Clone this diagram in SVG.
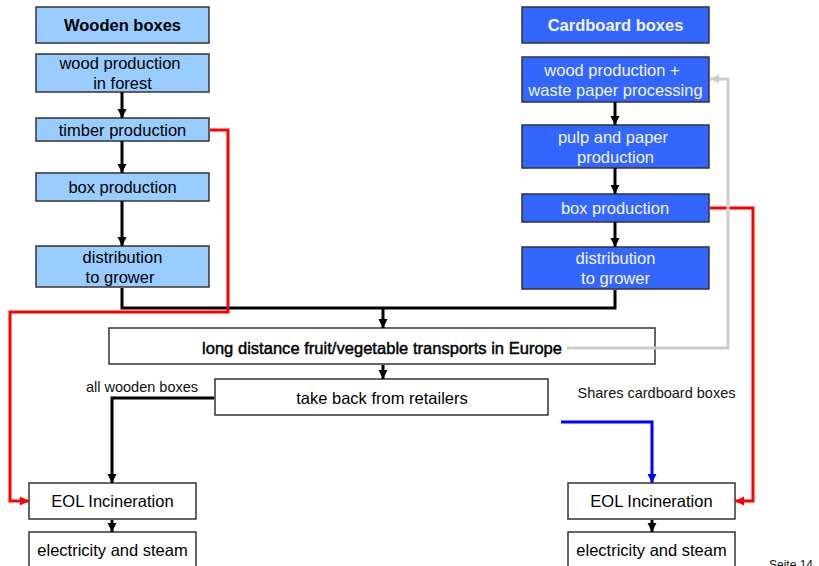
<svg xmlns="http://www.w3.org/2000/svg" width="819" height="566" viewBox="0 0 819 566">
  <style>
    text { font-family: "Liberation Sans", Arial, sans-serif; text-anchor: middle; }
    .lb rect { fill: #99ccff; stroke: #333333; stroke-width: 1.5; }
    .lb text { fill: #000000; font-size: 16.5px; }
    .db rect { fill: #3366ff; stroke: #333333; stroke-width: 1.5; }
    .db text { fill: #f4f4ff; font-size: 16.5px; }
    .wb rect { fill: #ffffff; stroke: #333333; stroke-width: 1.5; }
    .wb text { fill: #000000; font-size: 16.5px; }
    .title { font-weight: bold; }
    .heavy { font-size: 18px; stroke: #000000; stroke-width: 0.45; }
    .note { font-size: 14.5px; fill: #111111; }
    .conn { fill: none; stroke-width: 3; stroke-linejoin: miter; }
    .k { stroke: #000000; }
    .r { stroke: #ff0000; }
    .g { stroke: #cccccc; }
    .b { stroke: #0000ff; }
  </style>
  <defs>
    <marker id="ak" markerUnits="userSpaceOnUse" markerWidth="10" markerHeight="10" viewBox="0 0 10 10" refX="9" refY="5" orient="auto">
      <path d="M0,0.5 L9,5 L0,9.5 Z" fill="#000000"/>
    </marker>
    <marker id="ar" markerUnits="userSpaceOnUse" markerWidth="10" markerHeight="10" viewBox="0 0 10 10" refX="9" refY="5" orient="auto">
      <path d="M0,0.5 L9,5 L0,9.5 Z" fill="#ff0000"/>
    </marker>
    <marker id="ag" markerUnits="userSpaceOnUse" markerWidth="10" markerHeight="10" viewBox="0 0 10 10" refX="9" refY="5" orient="auto">
      <path d="M0,0.5 L9,5 L0,9.5 Z" fill="#cccccc"/>
    </marker>
    <marker id="ab" markerUnits="userSpaceOnUse" markerWidth="10" markerHeight="10" viewBox="0 0 10 10" refX="9" refY="5" orient="auto">
      <path d="M0,0.5 L9,5 L0,9.5 Z" fill="#0000ff"/>
    </marker>
  </defs>

  <!-- wooden boxes column -->
  <g id="wooden-title" class="lb">
    <rect x="36" y="7" width="173" height="36"/>
    <text class="title" x="122.5" y="31">Wooden boxes</text>
  </g>
  <g id="wood-forest" class="lb">
    <rect x="36" y="54" width="173" height="38"/>
    <text x="120" y="69">wood production</text>
    <text x="122.5" y="89">in forest</text>
  </g>
  <g id="timber" class="lb">
    <rect x="36" y="118" width="173" height="23"/>
    <text x="122.5" y="136">timber production</text>
  </g>
  <g id="wood-box-prod" class="lb">
    <rect x="36" y="173" width="173" height="28"/>
    <text x="122.5" y="193">box production</text>
  </g>
  <g id="wood-distribution" class="lb">
    <rect x="36" y="246" width="173" height="41"/>
    <text x="122.5" y="263">distribution</text>
    <text x="120" y="283">to grower</text>
  </g>

  <!-- cardboard boxes column -->
  <g id="cardboard-title" class="db">
    <rect x="522" y="7" width="187" height="36"/>
    <text class="title" x="615.5" y="31" fill="#ffffff">Cardboard boxes</text>
  </g>
  <g id="wood-waste" class="db">
    <rect x="522" y="57" width="187" height="45"/>
    <text x="612" y="76">wood production +</text>
    <text x="615.5" y="96">waste paper processing</text>
  </g>
  <g id="pulp-paper" class="db">
    <rect x="522" y="125" width="187" height="43"/>
    <text x="613" y="143">pulp and paper</text>
    <text x="615.5" y="163">production</text>
  </g>
  <g id="card-box-prod" class="db">
    <rect x="522" y="194" width="187" height="28"/>
    <text x="615" y="214">box production</text>
  </g>
  <g id="card-distribution" class="db">
    <rect x="522" y="247" width="187" height="42"/>
    <text x="615.5" y="264">distribution</text>
    <text x="615.5" y="284">to grower</text>
  </g>

  <!-- shared chain -->
  <g id="transport" class="wb">
    <rect x="109" y="328" width="546" height="36"/>
    <text class="heavy" x="382" y="353.5" textLength="360" lengthAdjust="spacing">long distance fruit/vegetable transports in Europe</text>
  </g>
  <g id="take-back" class="wb">
    <rect x="215" y="379" width="333" height="36"/>
    <text x="382" y="404">take back from retailers</text>
  </g>
  <text class="note" x="142" y="392">all wooden boxes</text>
  <text class="note" x="656.5" y="398">Shares cardboard boxes</text>

  <g id="eol-wood" class="wb">
    <rect x="29" y="483" width="167" height="36"/>
    <text x="112.5" y="507">EOL Incineration</text>
  </g>
  <g id="energy-wood" class="wb">
    <rect x="29" y="532" width="167" height="40"/>
    <text x="112.5" y="556">electricity and steam</text>
  </g>
  <g id="eol-card" class="wb">
    <rect x="568" y="483" width="167" height="36"/>
    <text x="651.5" y="507">EOL Incineration</text>
  </g>
  <g id="energy-card" class="wb">
    <rect x="568" y="532" width="167" height="40"/>
    <text x="651.5" y="556">electricity and steam</text>
  </g>

  <text x="769" y="568.5" style="font-size:12px; text-anchor:start" fill="#111111">Seite 14</text>

  <!-- connectors -->
  <g id="connectors">
    <!-- wooden chain -->
    <path class="conn k" d="M122,92 V118" marker-end="url(#ak)"/>
    <path class="conn k" d="M122,141 V173" marker-end="url(#ak)"/>
    <path class="conn k" d="M122,201 V246" marker-end="url(#ak)"/>
    <!-- cardboard chain -->
    <path class="conn k" d="M615,102 V125" marker-end="url(#ak)"/>
    <path class="conn k" d="M615,168 V194" marker-end="url(#ak)"/>
    <path class="conn k" d="M615,222 V247" marker-end="url(#ak)"/>
    <!-- merge into transport -->
    <path class="conn k" d="M122,288 V308 H615 V290"/>
    <path class="conn k" d="M383,308 V328" marker-end="url(#ak)"/>
    <path class="conn k" d="M383,365 V379" marker-end="url(#ak)"/>
    <!-- take back to incineration -->
    <path class="conn k" d="M214,398 H112 V483" marker-end="url(#ak)"/>
    <path class="conn b" d="M561,422 H652 V483" marker-end="url(#ab)"/>
    <path class="conn k" d="M112,520 V532" marker-end="url(#ak)"/>
    <path class="conn k" d="M652,520 V532" marker-end="url(#ak)"/>
    <!-- production waste -->
    <path class="conn r" d="M210,130 H228 V312 H10 V501 H29" marker-end="url(#ar)"/>
    <path class="conn r" d="M710,208 H753 V501 H735" marker-end="url(#ar)"/>
    <!-- recycling loop -->
    <path class="conn g" d="M567,348 H728 V79 H710" marker-end="url(#ag)"/>
  </g>
</svg>
